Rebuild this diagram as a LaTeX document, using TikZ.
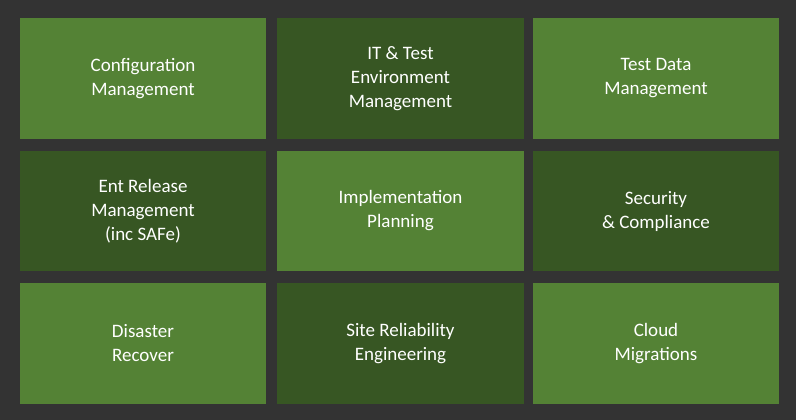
\documentclass[tikz,border=0pt]{standalone}
\usepackage{fontspec}
\setmainfont{Carlito}
\definecolor{bg}{HTML}{333333}
\definecolor{lg}{HTML}{548235}
\definecolor{dg}{HTML}{375623}
\begin{document}
\begin{tikzpicture}[x=1pt,y=-1pt,
  cell/.style={text=white,align=center,font=\fontsize{19}{24}\selectfont}]
\fill[bg] (0,0) rectangle (796,420);
\useasboundingbox (0,0) rectangle (796,420);
\def\cellbox#1#2#3#4#5#6#7{\fill[#5] (#1,#3) rectangle (#2,#4);
  \node[cell] (#6) at ({(#1+#2)/2},{(#3+#4)/2}) {#7};}
\cellbox{20}{266}{18}{139}{lg}{a}{Configuration\\Management}
\cellbox{277}{524}{18}{139}{dg}{b}{IT \& Test\\Environment\\Management}
\cellbox{533}{779}{18}{139}{lg}{c}{Test Data\\Management}
\cellbox{20}{266}{151}{271}{dg}{d}{Ent Release\\Management\\(inc SAFe)}
\cellbox{277}{524}{151}{271}{lg}{e}{Implementation\\Planning}
\cellbox{533}{779}{151}{271}{dg}{f}{Security\\\& Compliance}
\cellbox{20}{266}{283}{404}{lg}{g}{Disaster\\Recover}
\cellbox{277}{524}{283}{404}{dg}{h}{Site Reliability\\Engineering}
\cellbox{533}{779}{283}{404}{lg}{i}{Cloud\\Migrations}
\end{tikzpicture}
\end{document}
